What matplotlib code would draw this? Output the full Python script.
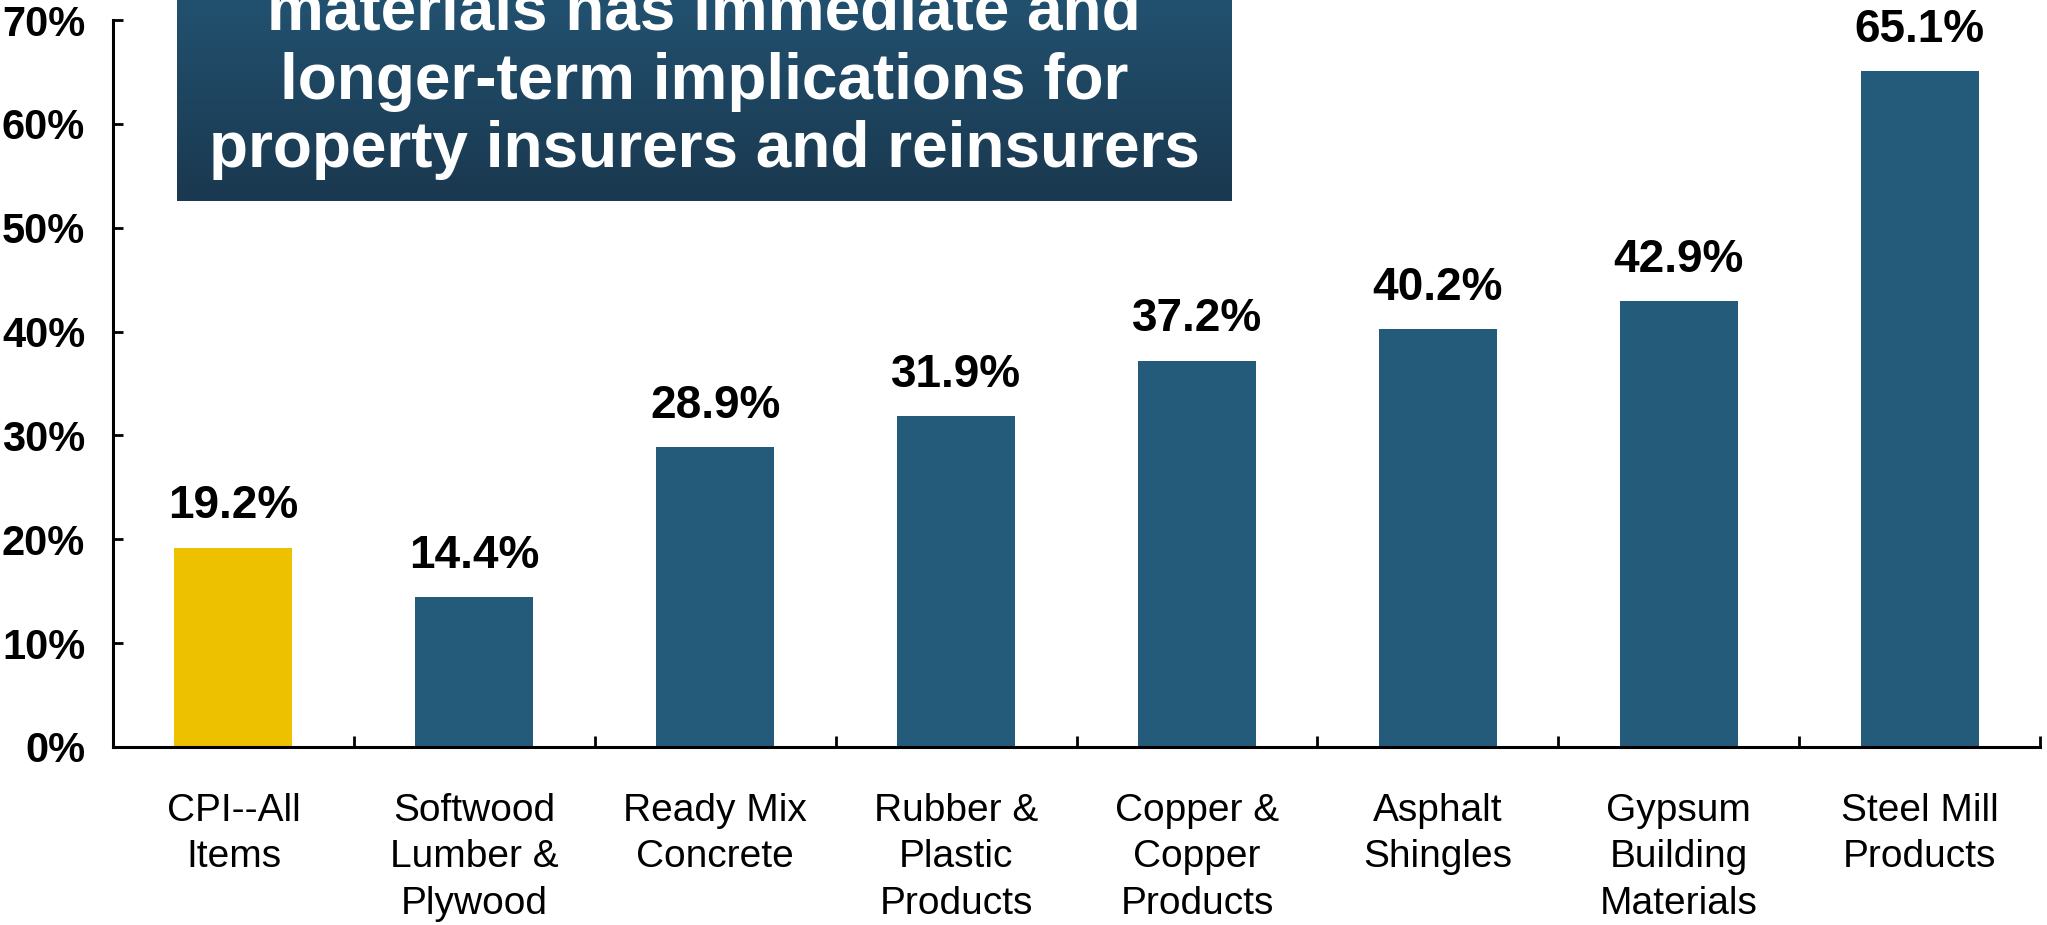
import numpy as np
import matplotlib.pyplot as plt

plt.rcParams['font.family'] = ['Liberation Sans', 'DejaVu Sans']

categories = ["CPI--All\nItems", "Softwood\nLumber &\nPlywood", "Ready Mix\nConcrete",
              "Rubber &\nPlastic\nProducts", "Copper &\nCopper\nProducts", "Asphalt\nShingles",
              "Gypsum\nBuilding\nMaterials", "Steel Mill\nProducts"]
values = [19.2, 14.4, 28.9, 31.9, 37.2, 40.2, 42.9, 65.1]
value_labels = ["19.2%", "14.4%", "28.9%", "31.9%", "37.2%", "40.2%", "42.9%", "65.1%"]
y_ticks = [0, 10, 20, 30, 40, 50, 60, 70]
title_lines = ["materials has immediate and", "longer-term implications for",
               "property insurers and reinsurers"]

navy = "#245B7A"
gold = "#EDC100"
colors = [gold] + [navy] * (len(values) - 1)

W, H = 2047, 925
fig = plt.figure(figsize=(W / 100, H / 100), dpi=100)
ax = fig.add_axes([113 / W, 1 - 747 / H, (2040 - 113) / W, (747 - 20) / H])

x = np.arange(len(values))
ax.bar(x, values, width=0.49, color=colors, zorder=2)
for xi, v, lab in zip(x, values, value_labels):
    ax.annotate(lab, (xi, v), xytext=(0, 21), textcoords="offset points",
                ha="center", va="baseline", fontsize=33, fontweight="bold")

ax.set_xlim(-0.5, len(values) - 0.5)
ax.set_ylim(0, 70)
ax.set_yticks(y_ticks)
ax.set_yticklabels([f"{t}%" for t in y_ticks], fontsize=30, fontweight="bold")

# category names centred under bars, ticks sit between the bars
ax.set_xticks(x)
ax.set_xticklabels(categories, fontsize=28, linespacing=1.38)
ax.tick_params(axis="x", length=0, pad=33)
ax.set_xticks(np.arange(0.5, len(values)), minor=True)
ax.tick_params(axis="x", which="minor", direction="in", length=8, width=2)
ax.tick_params(axis="y", direction="in", length=7, width=2, pad=20)

for s in ["top", "right"]:
    ax.spines[s].set_visible(False)
for s in ["left", "bottom"]:
    ax.spines[s].set_linewidth(2.2)

# title box, cut off at the top of the figure
box = fig.add_axes([177 / W, 1 - 201 / H, (1232 - 177) / W, 201 / H])
grad = np.linspace(0, 1, 256).reshape(-1, 1)
cmap = plt.matplotlib.colors.LinearSegmentedColormap.from_list("g", ["#22516F", "#1A384F"])
box.imshow(grad, aspect="auto", cmap=cmap, extent=[0, 1, 0, 1])
box.set_axis_off()
for line, base in zip(title_lines, [30, 99, 167]):
    fig.text(704 / W, 1 - base / H, line, ha="center", va="baseline",
             fontsize=46, fontweight="bold", color="white")

fig.savefig("out.png", dpi=100)
